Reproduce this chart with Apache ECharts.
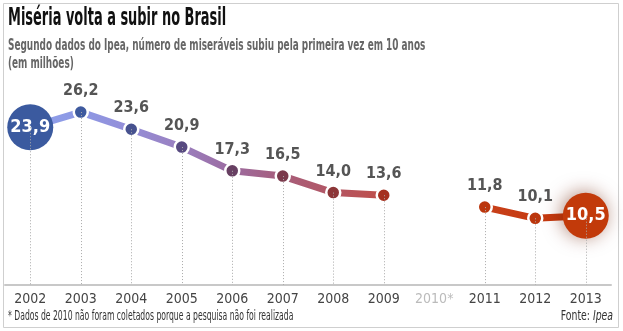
<!DOCTYPE html>
<html>
<head>
<meta charset="utf-8">
<script src="https://cdn.jsdelivr.net/npm/echarts@6/dist/echarts.min.js"></script>
<style>html,body{margin:0;padding:0;background:#fff}#c{width:623px;height:331px}</style>
</head>
<body>
<div id="c"></div>
<script>
const categories = ['2002','2003','2004','2005','2006','2007','2008','2009','2010*','2011','2012','2013'];
const values = [23.9, 26.2, 23.6, 20.9, 17.3, 16.5, 14.0, 13.6, null, 11.8, 10.1, 10.5];
const dotColors = ['#3b5a9f','#3e5a9e','#47528f','#574a80','#673f62','#7b3a4c','#8c3638','#a5301f','#c0390f','#bb360d','#bb360d','#c23a0a'];
const bigPoints = ['2002','2013'];
const missingCategory = '2010*';
const titleText = 'Miséria volta a subir no Brasil';
const subtitleText = 'Segundo dados do Ipea, número de miseráveis subiu pela primeira vez em 10 anos';
const unitText = '(em milhões)';
const footnoteText = '* Dados de 2010 não foram coletados porque a pesquisa não foi realizada';
const sourceLabel = 'Fonte: ';
const sourceName = 'Ipea';

const FONT = "'DejaVu Sans Condensed',sans-serif";
const fmt = v => v.toFixed(1).replace('.', ',');

const lineData = values.map((v, i) => {
  if (v === null) return null;
  const big = bigPoints.includes(categories[i]);
  const item = {
    value: v,
    symbolSize: big ? 46 : 14,
    itemStyle: {
      color: dotColors[i],
      borderColor: '#fff',
      borderWidth: big ? 0 : 2.5
    },
    label: big ? {
      show: true, position: 'inside', color: '#fff', fontSize: 18, fontWeight: 'bold', fontFamily: FONT
    } : {
      show: true, position: 'top', distance: 5, color: '#555', fontSize: 16, fontWeight: 'bold', fontFamily: FONT
    }
  };
  if (categories[i] === '2013') {
    item.itemStyle.shadowBlur = 18;
    item.itemStyle.shadowOffsetX = -2;
    item.itemStyle.shadowOffsetY = -1;
    item.itemStyle.shadowColor = 'rgba(110,30,0,0.5)';
  }
  return item;
});

const dropLines = values.map((v, i) => v === null ? null : [
  { coord: [i, v] }, { coord: [i, 0] }
]).filter(Boolean);

const chart = echarts.init(document.getElementById('c'), null, { renderer: 'canvas' });
chart.setOption({
  animation: false,
  backgroundColor: '#fff',
  grid: { left: 5, right: 12, top: 87, bottom: 46 },
  xAxis: {
    type: 'category',
    data: categories,
    boundaryGap: true,
    axisLine: { lineStyle: { color: '#c8c8c8', width: 2 } },
    axisTick: { show: false },
    axisLabel: {
      interval: 0,
      margin: 7,
      fontFamily: FONT,
      fontSize: 14,
      color: function (val) { return val === missingCategory ? '#bbbbbb' : '#444'; }
    },
    splitLine: { show: false }
  },
  yAxis: { type: 'value', min: 0, max: 30, show: false, splitLine: { show: false } },
  series: [
    {
      type: 'line', data: [], z: 1, silent: true,
      markLine: {
        silent: true, symbol: ['none', 'none'],
        label: { show: false },
        lineStyle: { color: '#aaa', type: [1, 2], width: 1 },
        data: dropLines
      }
    },
    {
      type: 'line',
      z: 3,
      data: lineData,
      connectNulls: false,
      showAllSymbol: true,
      symbol: 'circle',
      label: { formatter: p => fmt(p.value) },
      lineStyle: {
        width: 7,
        color: new echarts.graphic.LinearGradient(0, 0, 1, 0, [
          { offset: 0, color: '#8ea0ea' },
          { offset: 0.1, color: '#8e98e4' },
          { offset: 0.18, color: '#948ed8' },
          { offset: 0.27, color: '#9a80c0' },
          { offset: 0.36, color: '#9c6ca2' },
          { offset: 0.45, color: '#a65e7c' },
          { offset: 0.55, color: '#b45662' },
          { offset: 0.64, color: '#c04e48' },
          { offset: 0.82, color: '#c8401a' },
          { offset: 0.91, color: '#c63a10' },
          { offset: 1, color: '#c0380c' }
        ])
      }
    }
  ],
  graphic: [
    { type: 'rect', shape: { x: 3.5, y: 3.5, width: 615, height: 324 }, style: { fill: 'none', stroke: '#cfcfcf', lineWidth: 1 }, silent: true },
    { type: 'text', x: 8, y: 7, scaleX: 0.6, style: { text: titleText, font: "bold 24px " + FONT, fill: '#111' } },
    { type: 'text', x: 8, y: 39, scaleX: 0.66, style: { text: subtitleText, font: "bold 15px " + FONT, fill: '#666' } },
    { type: 'text', x: 8, y: 57, scaleX: 0.66, style: { text: unitText, font: "bold 15px " + FONT, fill: '#666' } },
    { type: 'text', x: 8, y: 309, scaleX: 0.61, style: { text: footnoteText, font: "14px " + FONT, fill: '#333' } },
    { type: 'text', x: 613, y: 309, scaleX: 0.74, style: {
      text: '{a|' + sourceLabel + '}{b|' + sourceName + '}', align: 'right',
      rich: { a: { font: "14px " + FONT, fill: '#333' }, b: { font: "italic 14px " + FONT, fill: '#333' } }
    } }
  ]
});
</script>
</body>
</html>
